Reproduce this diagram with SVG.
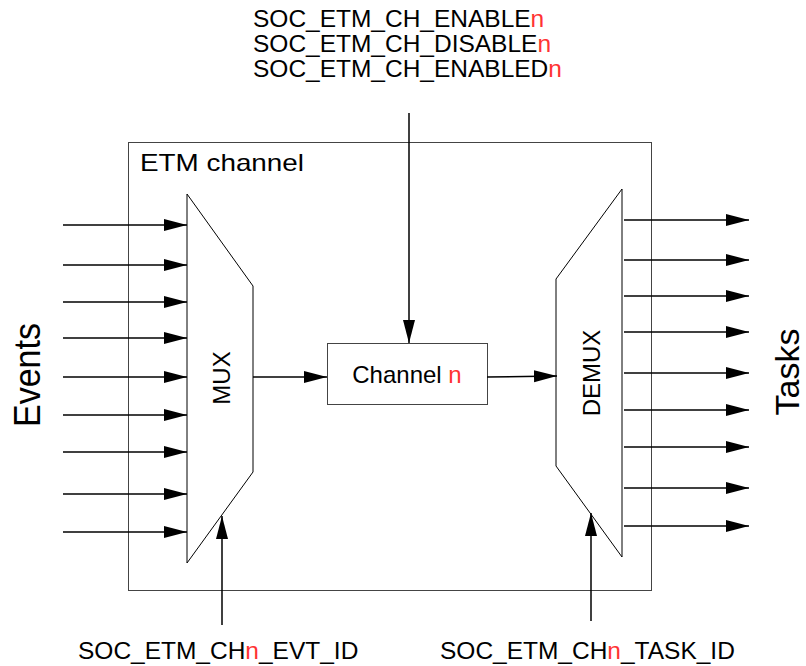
<svg xmlns="http://www.w3.org/2000/svg" width="806" height="666" viewBox="0 0 806 666">
<style>
text{font-family:"Liberation Sans",Arial,sans-serif;fill:#000}
.lbl{font-size:23px}
.big{font-size:34px}
.mid{font-size:24px}
.red{fill:#ff3333}
.box{fill:#fff;stroke:#444;stroke-width:1}
.shape{fill:#fff;stroke:#000;stroke-width:1}
.wire{fill:none;stroke:#000;stroke-width:1.5}
</style>
<defs>
<marker id="ah" markerUnits="userSpaceOnUse" markerWidth="24" markerHeight="14" refX="23" refY="6" orient="auto">
<path d="M0,0 L23,6 L0,12 Z" fill="#000"/>
</marker>
</defs>
<rect width="806" height="666" fill="#fff"/>
<g id="etm-channel">
<rect class="box" x="128.5" y="142.5" width="523" height="448"/>
<text class="mid" transform="translate(140,171) scale(1.16,1)">ETM channel</text>
</g>
<g id="mux">
<path class="shape" d="M187,194 L253,286 L253,472 L187,563 Z"/>
<text class="mid" transform="translate(230,378) rotate(-90)" text-anchor="middle">MUX</text>
</g>
<g id="demux">
<path class="shape" d="M622,189 L556,279 L556,466 L622,557 Z"/>
<text class="mid" transform="translate(600,373) rotate(-90)" text-anchor="middle">DEMUX</text>
</g>
<g id="channel">
<rect class="box" x="327.5" y="343.5" width="160" height="61"/>
<text class="mid" x="407" y="383" text-anchor="middle">Channel <tspan class="red">n</tspan></text>
</g>
<g id="events-label">
<text class="big" transform="translate(40,375) rotate(-90) scale(1,1.1)" text-anchor="middle">Events</text>
</g>
<g id="tasks-label">
<text class="big" transform="translate(799,372) rotate(-90)" text-anchor="middle">Tasks</text>
</g>
<g id="ctrl-label">
<text class="lbl" transform="translate(253,27) scale(1.065,1)">SOC_ETM_CH_ENABLE<tspan class="red">n</tspan></text>
<text class="lbl" transform="translate(253,52) scale(1.065,1)">SOC_ETM_CH_DISABLE<tspan class="red">n</tspan></text>
<text class="lbl" transform="translate(253,77) scale(1.065,1)">SOC_ETM_CH_ENABLED<tspan class="red">n</tspan></text>
</g>
<g id="evt-id-label">
<text class="lbl" transform="translate(78,659) scale(1.065,1)">SOC_ETM_CH<tspan class="red">n</tspan>_EVT_ID</text>
</g>
<g id="task-id-label">
<text class="lbl" transform="translate(440,659) scale(1.065,1)">SOC_ETM_CH<tspan class="red">n</tspan>_TASK_ID</text>
</g>
<g id="connectors" class="wire">
<line x1="63" y1="225" x2="187" y2="225" marker-end="url(#ah)"/>
<line x1="63" y1="265" x2="187" y2="265" marker-end="url(#ah)"/>
<line x1="63" y1="302" x2="187" y2="302" marker-end="url(#ah)"/>
<line x1="63" y1="338" x2="187" y2="338" marker-end="url(#ah)"/>
<line x1="63" y1="377" x2="187" y2="377" marker-end="url(#ah)"/>
<line x1="63" y1="415" x2="187" y2="415" marker-end="url(#ah)"/>
<line x1="63" y1="452" x2="187" y2="452" marker-end="url(#ah)"/>
<line x1="63" y1="494" x2="187" y2="494" marker-end="url(#ah)"/>
<line x1="63" y1="532" x2="187" y2="532" marker-end="url(#ah)"/>
<line x1="624" y1="220" x2="749" y2="220" marker-end="url(#ah)"/>
<line x1="624" y1="260" x2="749" y2="260" marker-end="url(#ah)"/>
<line x1="624" y1="296" x2="749" y2="296" marker-end="url(#ah)"/>
<line x1="624" y1="332" x2="749" y2="332" marker-end="url(#ah)"/>
<line x1="624" y1="373" x2="749" y2="373" marker-end="url(#ah)"/>
<line x1="624" y1="410" x2="749" y2="410" marker-end="url(#ah)"/>
<line x1="624" y1="447" x2="749" y2="447" marker-end="url(#ah)"/>
<line x1="624" y1="488" x2="749" y2="488" marker-end="url(#ah)"/>
<line x1="624" y1="526" x2="749" y2="526" marker-end="url(#ah)"/>
<line x1="253" y1="377" x2="327" y2="377" marker-end="url(#ah)"/>
<line x1="487" y1="377" x2="557" y2="376" marker-end="url(#ah)"/>
<line x1="409" y1="113" x2="409" y2="343" marker-end="url(#ah)"/>
<line x1="222" y1="625" x2="222" y2="516" marker-end="url(#ah)"/>
<line x1="591" y1="621" x2="591" y2="513" marker-end="url(#ah)"/>
</g>
</svg>
